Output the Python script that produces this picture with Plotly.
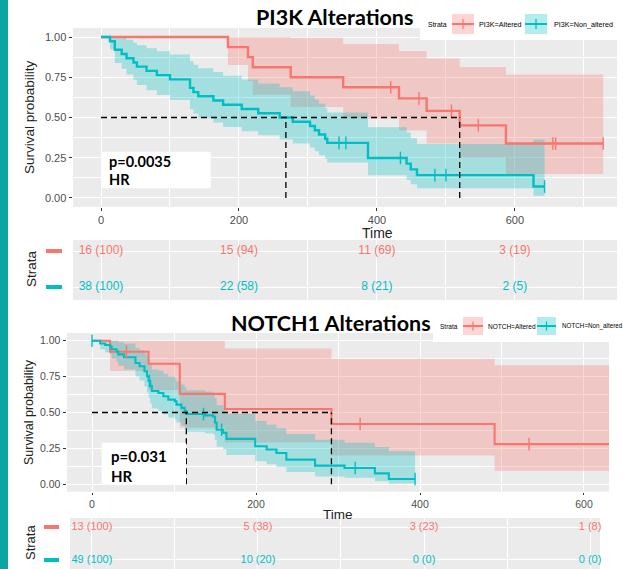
import plotly.graph_objects as go

W, H = 623, 569

# ---------------- data: PI3K ----------------
pi3k_alt_time = [0, 184, 213, 220, 275, 351, 432, 472, 520, 587, 728]
pi3k_alt_surv = [1, 0.9375, 0.875, 0.8125, 0.75, 0.6875, 0.6188, 0.5414, 0.4512, 0.3384, 0.3384]
pi3k_alt_lower = [1, 0.8261, 0.7271, 0.6420, 0.5652, 0.4941, 0.4191, 0.3385, 0.2501, 0.1494, 0.1494]
pi3k_alt_upper = [1, 1, 1, 1, 0.9953, 0.9567, 0.9137, 0.8658, 0.8142, 0.7665, 0.7665]
pi3k_alt_censor = [420, 461, 508, 547, 655, 659, 728]

pi3k_non_time = [0, 13, 20, 30, 37, 47, 52, 66, 81, 100, 129, 134, 141, 163, 177, 204, 228, 259, 278,
                 303, 310, 316, 325, 328, 387, 443, 449, 458, 627, 643]
pi3k_non_surv = [1, 0.9737, 0.9211, 0.8947, 0.8684, 0.8421, 0.8158, 0.7895, 0.7632, 0.7368, 0.6842,
                 0.6579, 0.6316, 0.6053, 0.5789, 0.5526, 0.5263, 0.5, 0.4737, 0.4474, 0.4211, 0.3947,
                 0.3684, 0.3421, 0.2488, 0.2133, 0.1777, 0.1422, 0.0711, 0.0711]
pi3k_non_lower = [1, 0.9241, 0.8392, 0.8023, 0.7673, 0.7338, 0.7014, 0.6700, 0.6393, 0.6094, 0.5513,
                  0.5231, 0.4954, 0.4682, 0.4414, 0.4151, 0.3893, 0.3638, 0.3388, 0.3142, 0.2900,
                  0.2662, 0.2430, 0.2201, 0.1406, 0.1118, 0.0849, 0.0603, 0.0139, 0.0139]
pi3k_non_upper = [1, 1, 1, 0.9978, 0.9828, 0.9664, 0.9488, 0.9303, 0.9111, 0.8910, 0.8492, 0.8274,
                  0.8052, 0.7825, 0.7593, 0.7356, 0.7116, 0.6872, 0.6623, 0.6371, 0.6113, 0.5852,
                  0.5586, 0.5317, 0.4401, 0.4068, 0.3718, 0.3355, 0.3630, 0.3630]
pi3k_non_censor = [345, 355, 434, 484, 500, 643]
pi3k_medians = [268, 520]

pi3k_risk_times = [0, 200, 400, 600]
pi3k_risk_alt = ["16 (100)", "15 (94)", "11 (69)", "3 (19)"]
pi3k_risk_non = ["38 (100)", "22 (58)", "8 (21)", "2 (5)"]

# ---------------- data: NOTCH1 ----------------
notch_alt_time = [0, 22, 69, 107, 162, 292, 491, 640]
notch_alt_surv = [1, 0.9231, 0.8392, 0.6294, 0.5245, 0.4196, 0.2797, 0.2797]
notch_alt_lower = [1, 0.7890, 0.6574, 0.3939, 0.2908, 0.2013, 0.0944, 0.0944]
notch_alt_upper = [1, 1, 1, 1, 0.9458, 0.8748, 0.8289, 0.8289]
notch_alt_censor = [42, 327, 533]

notch_non_time = [0, 10, 16, 22, 24, 30, 32, 39, 53, 58, 64, 67, 69, 71, 73, 81, 87, 93, 101, 103,
                  109, 113, 115, 138, 148, 150, 152, 160, 164, 199, 213, 225, 237, 272, 308, 345, 362, 394]
notch_non_surv = [1, 0.98, 0.97, 0.96, 0.94, 0.925, 0.905, 0.885, 0.845, 0.822, 0.787, 0.752, 0.72,
                  0.684, 0.65, 0.636, 0.613, 0.59, 0.578, 0.555, 0.532, 0.51, 0.49, 0.48, 0.47, 0.43,
                  0.38, 0.358, 0.316, 0.265, 0.242, 0.218, 0.172, 0.13, 0.114, 0.076, 0.037, 0.037]
notch_non_lower = [1, 0.94, 0.92, 0.905, 0.875, 0.853, 0.826, 0.80, 0.75, 0.722, 0.681, 0.64, 0.603,
                   0.563, 0.527, 0.513, 0.488, 0.465, 0.453, 0.43, 0.408, 0.386, 0.366, 0.356, 0.346,
                   0.308, 0.262, 0.242, 0.204, 0.16, 0.14, 0.12, 0.085, 0.055, 0.045, 0.022, 0.006, 0.006]
notch_non_upper = [1, 1, 1, 1, 1, 1, 0.99, 0.98, 0.95, 0.935, 0.91, 0.885, 0.86, 0.83, 0.80, 0.79,
                   0.77, 0.75, 0.737, 0.716, 0.695, 0.674, 0.655, 0.647, 0.638, 0.60, 0.551, 0.53,
                   0.49, 0.44, 0.415, 0.39, 0.35, 0.31, 0.29, 0.26, 0.23, 0.23]
notch_non_censor = [0, 70, 136, 158, 321, 394]
notch_medians = [115, 292]

notch_risk_times = [0, 200, 400, 600]
notch_risk_alt = ["13 (100)", "5 (38)", "3 (23)", "1 (8)"]
notch_risk_non = ["49 (100)", "10 (20)", "0 (0)", "0 (0)"]

y_ticks = [0, 0.25, 0.5, 0.75, 1.0]
y_ticktext = ["0.00", "0.25", "0.50", "0.75", "1.00"]

# ---------------- styling ----------------
RED = "#F8766D"
TEAL = "#00BFC4"
RED_FILL = "rgba(248,118,109,0.3)"
TEAL_FILL = "rgba(0,191,196,0.3)"
BG = "#EBEBEB"
SANS = "Liberation Sans, Arial, sans-serif"
BOLD = "Lato, Carlito, Calibri, sans-serif"


def fx(p):
    return p / W


def fy(p):
    return 1 - p / H


def step_at(times, surv, t):
    v = surv[0]
    for ti, si in zip(times, surv):
        if ti <= t:
            v = si
    return v


fig = go.Figure()


def add_panel(groups, medians, xa, ya, lw):
    for g in groups:
        fig.add_trace(go.Scatter(x=g["t"], y=g["lo"], mode="lines", line=dict(width=0, shape="hv"),
                                 xaxis=xa, yaxis=ya, showlegend=False, hoverinfo="skip"))
        fig.add_trace(go.Scatter(x=g["t"], y=g["hi"], mode="lines", line=dict(width=0, shape="hv"),
                                 fill="tonexty", fillcolor=g["fill"],
                                 xaxis=xa, yaxis=ya, showlegend=False, hoverinfo="skip"))
    for g in groups:
        fig.add_trace(go.Scatter(x=g["t"], y=g["s"], mode="lines",
                                 line=dict(width=lw, shape="hv", color=g["color"]),
                                 xaxis=xa, yaxis=ya, showlegend=False))
    for g in groups:
        cy = [step_at(g["t"], g["s"], c) for c in g["cens"]]
        fig.add_trace(go.Scatter(x=g["cens"], y=cy, mode="markers",
                                 marker=dict(symbol="line-ns", size=9,
                                             line=dict(width=1.4, color=g["color"])),
                                 xaxis=xa, yaxis=ya, showlegend=False))
    fig.add_trace(go.Scatter(x=[0, max(medians)], y=[0.5, 0.5], mode="lines",
                             line=dict(color="black", width=1.3, dash="6px,4px"),
                             xaxis=xa, yaxis=ya, showlegend=False))
    for m in medians:
        fig.add_trace(go.Scatter(x=[m, m], y=[0, 0.5], mode="lines",
                                 line=dict(color="black", width=1.3, dash="6px,4px"),
                                 xaxis=xa, yaxis=ya, showlegend=False))


def add_table(times, alt, non, xa, ya, size):
    fig.add_trace(go.Scatter(x=times, y=[1] * len(times), mode="text", text=alt, cliponaxis=False,
                             textfont=dict(family=SANS, size=size, color=RED),
                             xaxis=xa, yaxis=ya, showlegend=False))
    fig.add_trace(go.Scatter(x=times, y=[0] * len(times), mode="text", text=non, cliponaxis=False,
                             textfont=dict(family=SANS, size=size, color=TEAL),
                             xaxis=xa, yaxis=ya, showlegend=False))


add_panel([
    dict(t=pi3k_alt_time, s=pi3k_alt_surv, lo=pi3k_alt_lower, hi=pi3k_alt_upper,
         cens=pi3k_alt_censor, color=RED, fill=RED_FILL),
    dict(t=pi3k_non_time, s=pi3k_non_surv, lo=pi3k_non_lower, hi=pi3k_non_upper,
         cens=pi3k_non_censor, color=TEAL, fill=TEAL_FILL),
], pi3k_medians, "x", "y", 2.4)
add_table(pi3k_risk_times, pi3k_risk_alt, pi3k_risk_non, "x2", "y2", 12)

add_panel([
    dict(t=notch_alt_time, s=notch_alt_surv, lo=notch_alt_lower, hi=notch_alt_upper,
         cens=notch_alt_censor, color=RED, fill=RED_FILL),
    dict(t=notch_non_time, s=notch_non_surv, lo=notch_non_lower, hi=notch_non_upper,
         cens=notch_non_censor, color=TEAL, fill=TEAL_FILL),
], notch_medians, "x3", "y3", 2.1)
add_table(notch_risk_times, notch_risk_alt, notch_risk_non, "x4", "y4", 11)


def km_x(domain, rng, anchor, size):
    return dict(domain=domain, range=rng, anchor=anchor, tickvals=[0, 200, 400, 600],
                ticks="outside", ticklen=2.5, tickwidth=1, tickcolor="#333333",
                tickfont=dict(family=SANS, size=size, color="#4D4D4D"),
                showgrid=True, gridcolor="white", gridwidth=1.1, zeroline=False, showline=False,
                minor=dict(tickvals=[100, 300, 500, 700], showgrid=True, gridcolor="white",
                           gridwidth=0.5, ticks=""))


def km_y(domain, rng, anchor, size):
    return dict(domain=domain, range=rng, anchor=anchor, tickvals=y_ticks, ticktext=y_ticktext,
                ticks="outside", ticklen=3.5, tickwidth=1, tickcolor="#333333",
                tickfont=dict(family=SANS, size=size, color="#4D4D4D"),
                showgrid=True, gridcolor="white", gridwidth=1.1, zeroline=False, showline=False,
                minor=dict(tickvals=[0.125, 0.375, 0.625, 0.875], showgrid=True,
                           gridcolor="white", gridwidth=0.5, ticks=""))


def tab_x(domain, rng, anchor):
    return dict(domain=domain, range=rng, anchor=anchor, tickvals=[0, 200, 400, 600],
                showticklabels=False, ticks="", showgrid=True, gridcolor="white", gridwidth=1.1,
                zeroline=False, showline=False,
                minor=dict(tickvals=[100, 300, 500, 700], showgrid=True, gridcolor="white",
                           gridwidth=0.5, ticks=""))


def tab_y(domain, rng, anchor):
    return dict(domain=domain, range=rng, anchor=anchor, tickvals=[0, 1], showticklabels=False,
                ticks="", showgrid=True, gridcolor="white", gridwidth=1.1, zeroline=False,
                showline=False)


shapes = []
annotations = []


def rect(x0, y0, x1, y1, color, layer="above"):
    shapes.append(dict(type="rect", xref="paper", yref="paper", x0=fx(x0), x1=fx(x1),
                       y0=fy(y1), y1=fy(y0), fillcolor=color, line=dict(width=0), layer=layer))


def seg(x0, y0, x1, y1, color, width):
    shapes.append(dict(type="line", xref="paper", yref="paper", x0=fx(x0), x1=fx(x1),
                       y0=fy(y0), y1=fy(y1), line=dict(color=color, width=width), layer="above"))


def text(x, y, s, size, family=SANS, color="black", xanchor="center", angle=0):
    annotations.append(dict(x=fx(x), y=fy(y), xref="paper", yref="paper", text=s, showarrow=False,
                            xanchor=xanchor, yanchor="middle", textangle=angle,
                            font=dict(family=family, size=size, color=color)))


# left accent bar
rect(0, 0, 8, H, "#0BA6A3", layer="below")

# titles
text(334, 17, "<b>PI3K Alterations</b>", 21.5, family=BOLD)
text(331, 323.5, "<b>NOTCH1 Alterations</b>", 21.5, family=BOLD)

# axis titles
text(30, 117, "Survival probability", 13.5, angle=-90, color="#222222")
text(29, 412, "Survival probability", 12.5, angle=-90, color="#222222")
text(377.5, 233, "Time", 14, color="#222222")
text(338, 514.5, "Time", 13.5, color="#222222")
text(31, 269, "Strata", 13.5, angle=-90, color="#222222")
text(30, 543, "Strata", 13, angle=-90, color="#222222")

# risk-table strata keys
seg(46, 251, 62, 251, RED, 4)
seg(46, 287, 62, 287, TEAL, 4)
seg(44, 527, 59, 527, RED, 4)
seg(44, 560, 59, 560, TEAL, 4)

# p-value boxes
rect(101.7, 151.7, 210.7, 188.3, "white")
text(107, 162, "<b>p=0.0035</b>", 14.5, family=BOLD, xanchor="left")
text(107, 179, "<b>HR</b>", 14.5, family=BOLD, xanchor="left")
rect(101.7, 442.7, 186, 485, "white")
text(109, 456, "<b>p=0.031</b>", 15, family=BOLD, xanchor="left")
text(109, 475.5, "<b>HR</b>", 15, family=BOLD, xanchor="left")

# legends (top)
rect(420, 0, 623, 40, "white")
text(437.5, 24, "Strata", 7)
rect(452, 14, 474, 34, RED_FILL)
seg(452, 24, 474, 24, RED, 2)
seg(463, 19, 463, 29, RED, 1.2)
text(477, 24, "PI3K=Altered", 7.2, xanchor="left")
rect(525, 14, 547, 34, TEAL_FILL)
seg(525, 24, 547, 24, TEAL, 2)
seg(536, 19, 536, 29, TEAL, 1.2)
text(552, 24, "PI3K=Non_altered", 7.2, xanchor="left")

# legends (bottom)
rect(433, 310, 623, 342, "white")
text(449, 326, "Strata", 6.5)
rect(463, 317, 483, 335, RED_FILL)
seg(463, 326, 483, 326, RED, 2)
seg(473, 321.5, 473, 330.5, RED, 1.2)
text(485.5, 326, "NOTCH=Altered", 6.5, xanchor="left")
rect(537, 317, 556, 335, TEAL_FILL)
seg(537, 326, 556, 326, TEAL, 2)
seg(546.5, 321.5, 546.5, 330.5, TEAL, 1.2)
text(559.5, 326, "NOTCH=Non_altered", 6.3, xanchor="left")

fig.update_layout(
    width=W, height=H, autosize=False,
    margin=dict(l=0, r=0, t=0, b=0, pad=0),
    paper_bgcolor="white", plot_bgcolor=BG,
    showlegend=False,
    xaxis=km_x([fx(73), fx(617)], [-40.6, 748], "y", 11),
    yaxis=km_y([fy(207), fy(28)], [-0.056, 1.056], "x", 11),
    xaxis2=tab_x([fx(73), fx(617)], [-40.6, 748], "y2"),
    yaxis2=tab_y([fy(300), fy(240)], [-0.36, 1.31], "x2"),
    xaxis3=km_x([fx(67), fx(609)], [-30.5, 630.5], "y3", 10.5),
    yaxis3=km_y([fy(491.7), fy(333)], [-0.0515, 1.0536], "x3", 10.5),
    xaxis4=tab_x([fx(70), fx(600)], [-26.4, 612], "y4"),
    yaxis4=tab_y([0, fy(518)], [-0.273, 1.273], "x4"),
    shapes=shapes,
    annotations=annotations,
)

fig.write_html("out.html", config={"displayModeBar": False},
               post_script="document.body.style.margin='0px';document.body.style.padding='0px';")
